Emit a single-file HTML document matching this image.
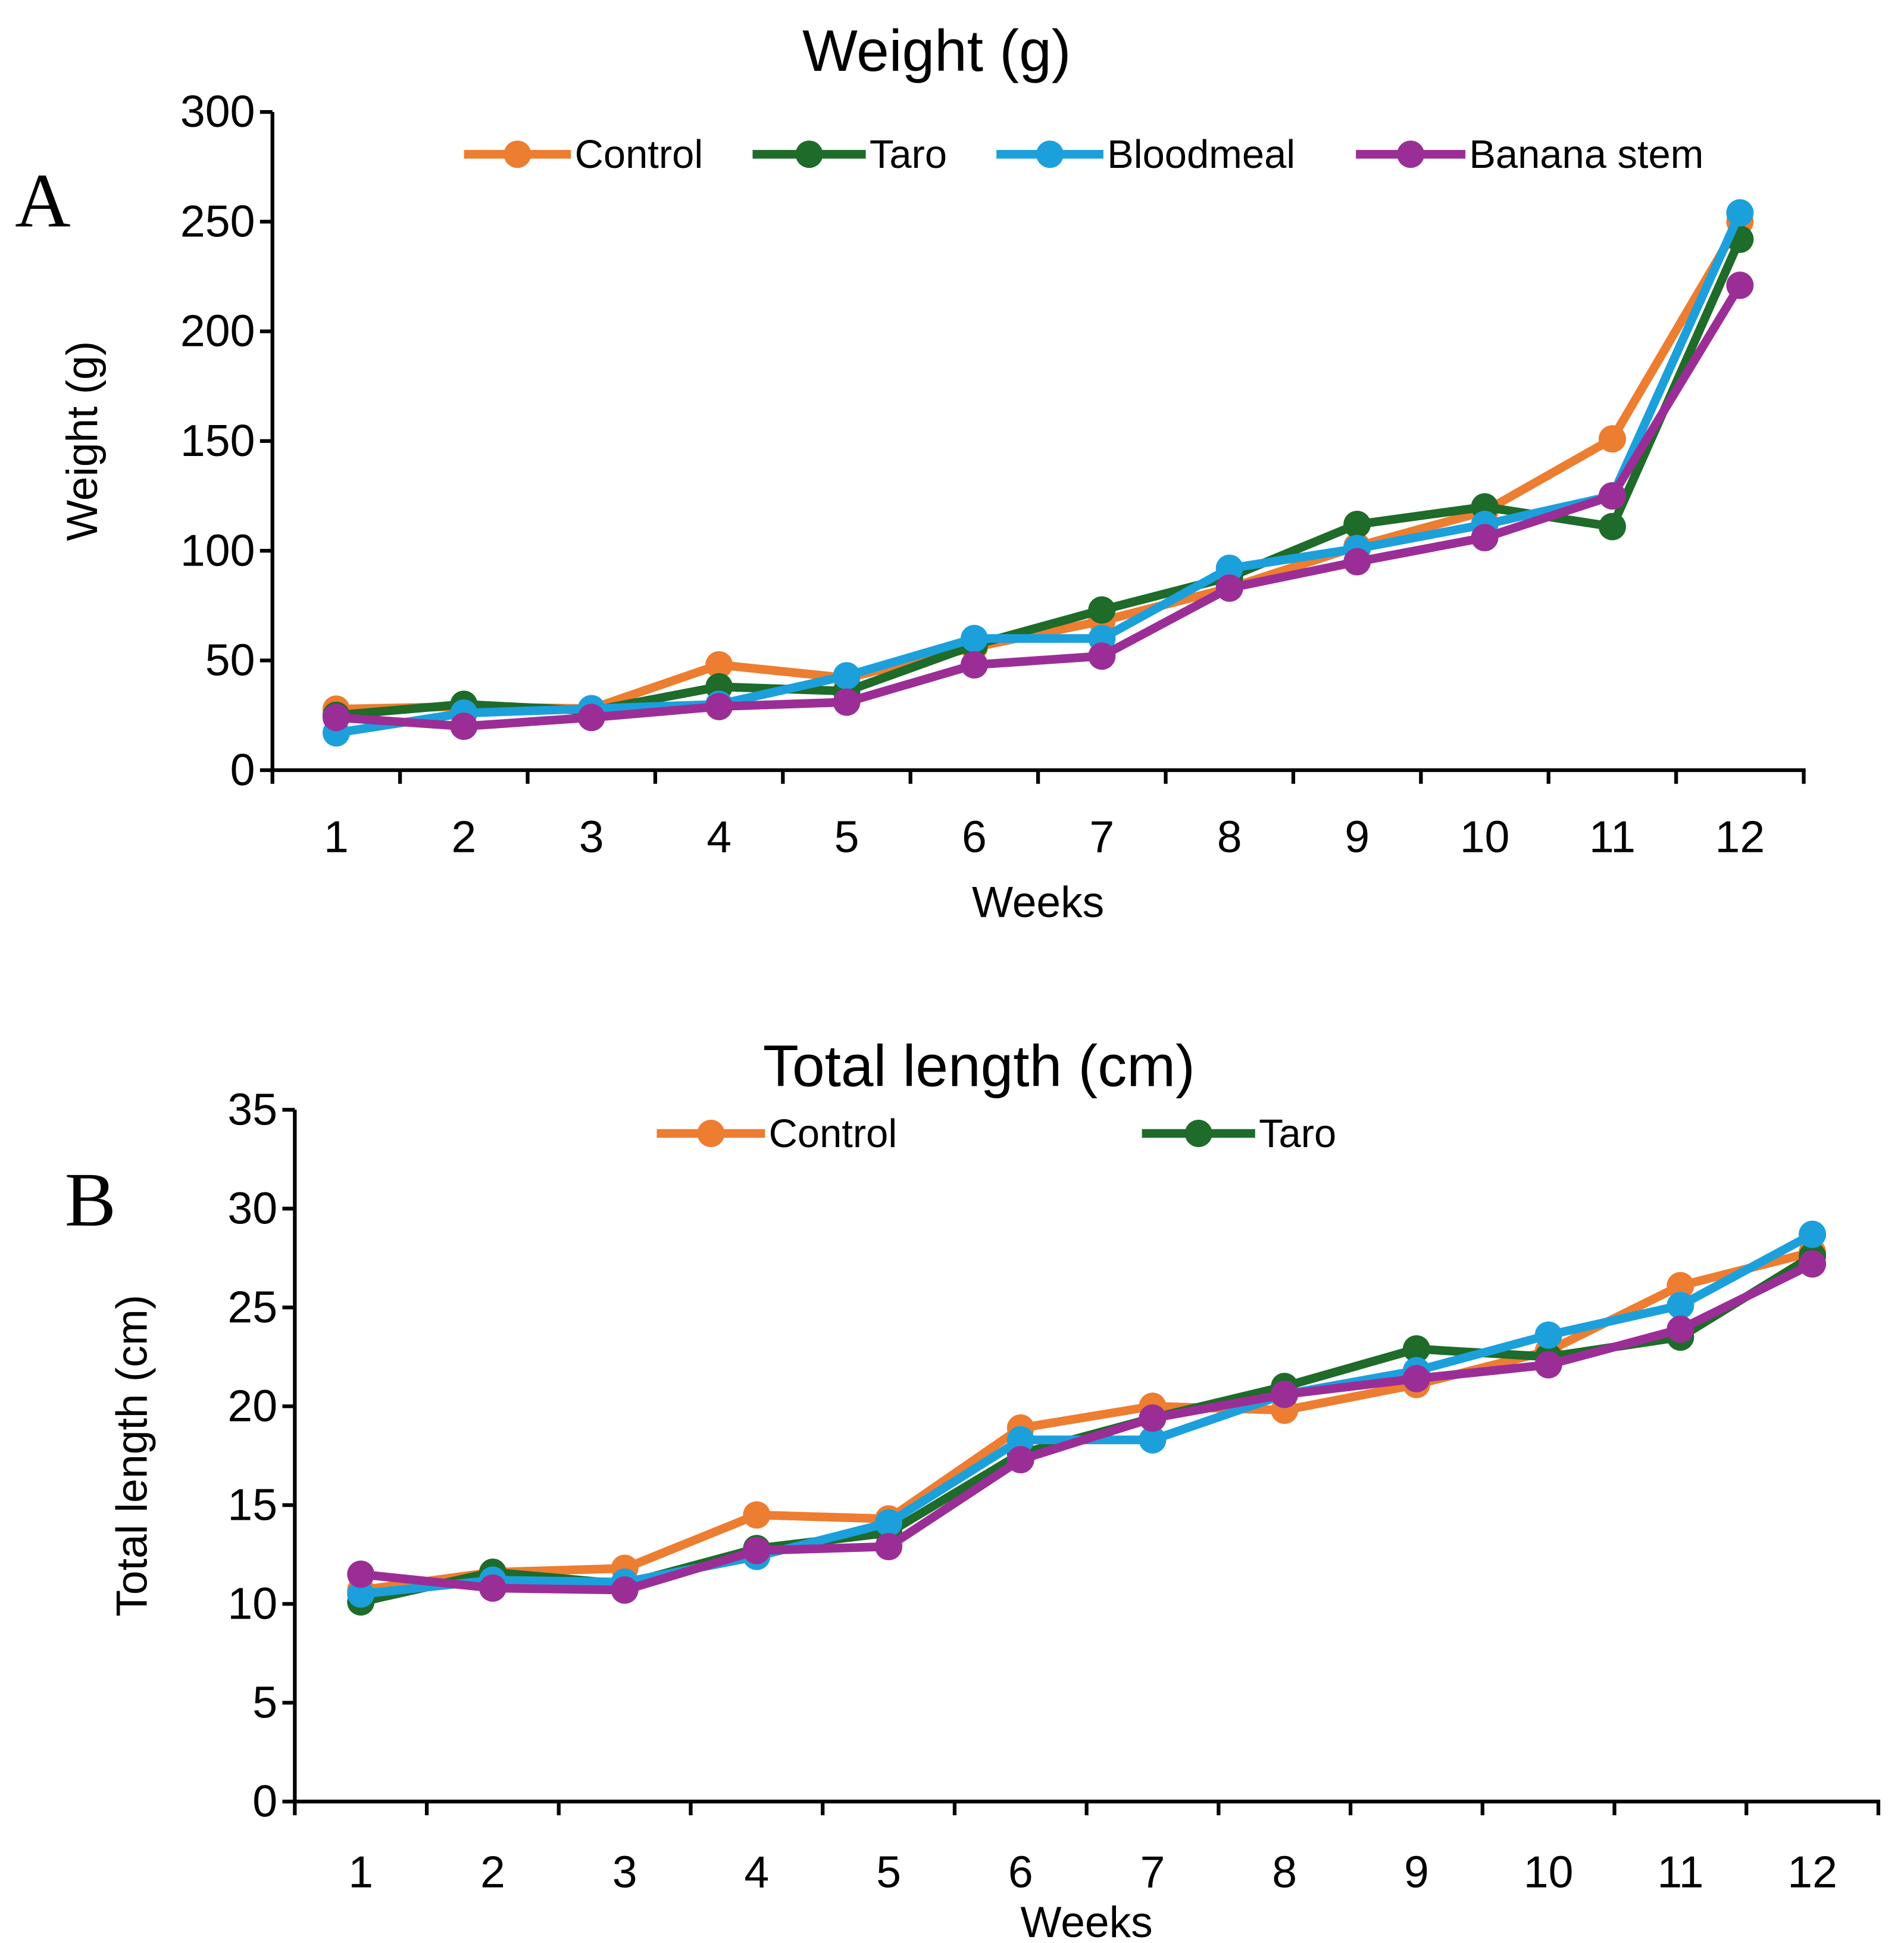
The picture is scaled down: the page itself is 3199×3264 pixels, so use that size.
<!DOCTYPE html>
<html><head><meta charset="utf-8"><style>
html,body{margin:0;padding:0;background:#fff;}
svg{display:block;font-family:"Liberation Sans",sans-serif;}
</style></head><body>
<svg id="fig" width="3199" height="3264" viewBox="0 0 1530.6 1561.7" xmlns="http://www.w3.org/2000/svg"></svg>
<script>
const weeks = ["1","2","3","4","5","6","7","8","9","10","11","12"];
const seriesNames = ["Control","Taro","Bloodmeal","Banana stem"];
const seriesColors = ["#ED7D31","#1E6B2A","#1CA0DB","#9B2E96"];
const weightControl = [27.8,29,28,48,42,56,68,83,102,118,151,250];
const weightTaro = [25,30,27,38,36,57,73,88,112,120,111,242];
const weightBlood = [17,26,28,30,43,60,60,92,101,112,125,254];
const weightBanana = [24,20,24,29,31,48,52,83,95,106,125,221];
const lenControl = [10.7,11.6,11.8,14.5,14.3,18.9,20.0,19.8,21.1,22.8,26.1,27.8];
const lenTaro = [10.1,11.6,11.0,12.8,13.6,17.6,19.4,21.0,22.9,22.5,23.5,27.6];
const lenBlood = [10.5,11.2,11.1,12.4,14.1,18.3,18.3,20.6,21.8,23.6,25.1,28.7];
const lenBanana = [11.5,10.8,10.7,12.7,12.9,17.3,19.4,20.6,21.4,22.1,23.9,27.2];
const weightTicks = [0,50,100,150,200,250,300];
const lenTicks = [0,5,10,15,20,25,30,35];

const NS="http://www.w3.org/2000/svg";
const svg=document.getElementById('fig');
function mk(tag,attrs,parent){const e=document.createElementNS(NS,tag);for(const k in attrs)e.setAttribute(k,attrs[k]);(parent||svg).appendChild(e);return e;}
function txt(s,attrs,parent){const e=mk('text',attrs,parent);e.textContent=s;return e;}

function chart(cfg){
  const g=mk('g',{});
  
  
  const x0=cfg.x0,x1=cfg.x1,yT=cfg.yT,yB=cfg.yB,max=cfg.max;
  const bw=(x1-x0)/weeks.length;
  const xs=i=>x0+bw*(i+0.5);
  const ys=v=>yB-(v/max)*(yB-yT);
  let t=txt(cfg.title,{x:cfg.titleX,y:cfg.titleY,'font-size':47,'text-anchor':'middle'},g);
  
  t=txt(cfg.letter,{x:cfg.letterX,y:cfg.letterY,'font-size':62,'font-family':'Liberation Serif, serif'},g);
  
  let a=mk('line',{x1:x0,y1:yT,x2:x0,y2:yB+1.5,stroke:'#000','stroke-width':3},g);
  
  a=mk('line',{x1:x0-1.5,y1:yB,x2:x1+1.5,y2:yB,stroke:'#000','stroke-width':3},g);
  
  cfg.ticks.forEach(v=>{
    const y=ys(v);
    mk('line',{x1:x0-10,y1:y,x2:x0,y2:y,stroke:'#000','stroke-width':3},g);
    const l=txt(String(v),{x:x0-14,y:y+12,'font-size':36,'text-anchor':'end'},g);
    
  });
  for(let i=0;i<=weeks.length;i++){const x=x0+bw*i;mk('line',{x1:x,y1:yB,x2:x,y2:yB+11,stroke:'#000','stroke-width':3},g);}
  weeks.forEach((w,i)=>{const l=txt(w,{x:xs(i),y:cfg.xLabY,'font-size':36,'text-anchor':'middle'},g);
    });
  t=txt('Weeks',{x:(x0+x1)/2,y:cfg.xTitleY,'font-size':35,'text-anchor':'middle'},g);
  
  t=txt(cfg.yTitle,{x:0,y:0,'font-size':35,'text-anchor':'middle',transform:`translate(${cfg.yTitleX},${(yT+yB)/2}) rotate(-90)`},g);
  
  cfg.series.forEach((data,si)=>{
    const c=seriesColors[si];
    const pl=mk('polyline',{points:data.map((v,i)=>xs(i)+','+ys(v)).join(' '),fill:'none',stroke:c,'stroke-width':7,'stroke-linejoin':'round'},g);
    
    
    data.forEach((v,i)=>{const p=mk('circle',{cx:xs(i),cy:ys(v),r:11,fill:c},g);
      });
  });
  cfg.legend.forEach(L=>{
    const c=seriesColors[L.s];
    const lg=mk('g',{},g);
    
    mk('line',{x1:L.x1,y1:cfg.legY,x2:L.x2,y2:cfg.legY,stroke:c,'stroke-width':7},lg);
    mk('circle',{cx:(L.x1+L.x2)/2,cy:cfg.legY,r:11,fill:c},lg);
    txt(seriesNames[L.s],{x:L.x2+3,y:cfg.legY+11,'font-size':32},lg);
  });
}
chart({name:'weight-chart',x0:219,x1:1450,yT:90,yB:619,max:300,ticks:weightTicks,
  title:'Weight (g)',titleX:753,titleY:57,letter:'A',letterX:12,letterY:182,
  xLabY:685,xTitleY:737,yTitle:'Weight (g)',yTitleX:78,
  series:[weightControl,weightTaro,weightBlood,weightBanana],legY:124,
  legend:[{s:0,x1:373,x2:459},{s:1,x1:605,x2:696},{s:2,x1:801,x2:887},{s:3,x1:1090,x2:1178}]});
chart({name:'length-chart',x0:237,x1:1510,yT:892,yB:1448,max:35,ticks:lenTicks,
  title:'Total length (cm)',titleX:787,titleY:873,letter:'B',letterX:52,letterY:985,
  xLabY:1517,xTitleY:1557,yTitle:'Total length (cm)',yTitleX:118,
  series:[lenControl,lenTaro,lenBlood,lenBanana],legY:911,
  legend:[{s:0,x1:528,x2:615},{s:1,x1:918,x2:1009}]});
</script>
</body></html>
